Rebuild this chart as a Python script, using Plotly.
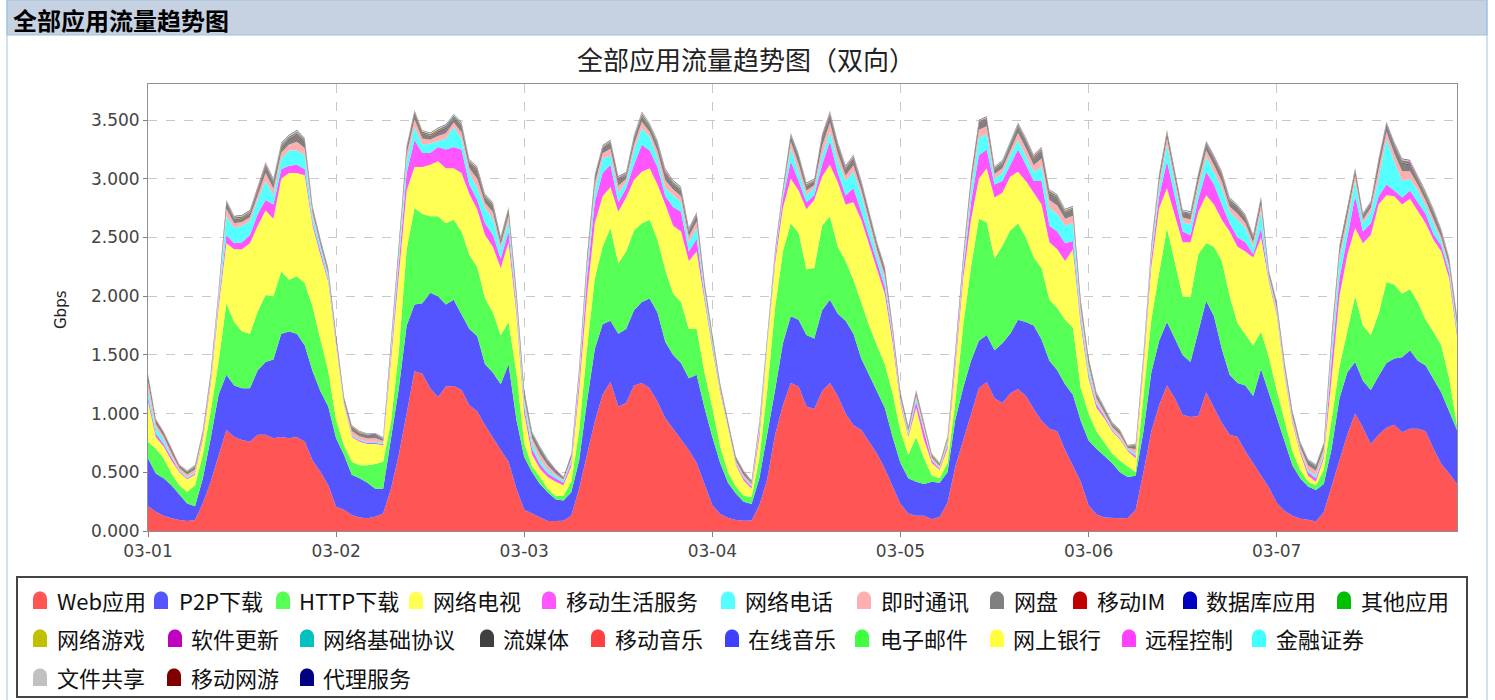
import pandas as pd
import plotly.graph_objects as go

# ---------------- data (Gbps, hourly from 03-01 00:00) ----------------
hours = pd.date_range("2015-03-01 00:00", periods=168, freq="h")
coarse_hours = pd.date_range("2015-03-01 05:00", periods=14, freq="12h")
day_ticks = pd.date_range("2015-03-01", periods=7, freq="D")
day_labels = ["03-01", "03-02", "03-03", "03-04", "03-05", "03-06", "03-07"]
y_ticks = [0, 0.5, 1.0, 1.5, 2.0, 2.5, 3.0, 3.5]

web = [0.21,0.165,0.13,0.108,0.094,0.085,0.094,0.236,0.42,0.63,
       0.86,0.80,0.775,0.76,0.82,0.82,0.79,0.80,0.79,0.80,
       0.76,0.60,0.505,0.39,0.207,0.18,0.136,0.114,0.108,0.122,
       0.15,0.36,0.65,1.0,1.36,1.34,1.215,1.14,1.23,1.235,
       1.20,1.07,1.02,0.90,0.79,0.69,0.59,0.36,0.18,0.15,
       0.12,0.085,0.085,0.088,0.13,0.36,0.65,0.93,1.16,1.27,
       1.06,1.09,1.24,1.26,1.215,1.10,0.96,0.87,0.78,0.69,
       0.58,0.40,0.22,0.145,0.11,0.094,0.088,0.09,0.22,0.44,
       0.82,1.07,1.26,1.23,1.06,1.04,1.19,1.26,1.15,1.0,
       0.90,0.86,0.76,0.66,0.53,0.38,0.23,0.15,0.13,0.13,
       0.10,0.12,0.24,0.55,0.77,1.0,1.215,1.27,1.13,1.09,
       1.17,1.21,1.15,1.04,0.94,0.87,0.85,0.69,0.56,0.42,
       0.22,0.14,0.115,0.11,0.108,0.11,0.18,0.50,0.85,1.07,
       1.24,1.13,0.99,0.97,0.98,1.18,1.05,0.92,0.82,0.80,
       0.68,0.58,0.47,0.37,0.24,0.17,0.13,0.105,0.095,0.08,
       0.16,0.38,0.62,0.82,1.0,0.88,0.74,0.82,0.88,0.905,
       0.84,0.87,0.87,0.85,0.70,0.57,0.49,0.40]

p2p = [0.41,0.325,0.32,0.282,0.216,0.15,0.116,0.214,0.37,0.53,
       0.47,0.44,0.44,0.455,0.55,0.62,0.67,0.88,0.91,0.88,
       0.82,0.76,0.685,0.67,0.583,0.47,0.344,0.336,0.302,0.238,
       0.21,0.43,0.565,0.75,0.57,0.60,0.815,0.86,0.70,0.735,
       0.65,0.65,0.64,0.52,0.56,0.56,0.83,0.59,0.45,0.35,
       0.28,0.245,0.185,0.172,0.20,0.24,0.45,0.62,0.60,0.52,
       0.62,0.63,0.64,0.69,0.765,0.76,0.65,0.63,0.65,0.61,
       0.75,0.65,0.58,0.435,0.30,0.226,0.162,0.14,0.23,0.38,
       0.38,0.53,0.57,0.57,0.61,0.60,0.69,0.71,0.70,0.79,
       0.78,0.61,0.57,0.54,0.52,0.42,0.35,0.30,0.29,0.27,
       0.32,0.29,0.26,0.40,0.45,0.45,0.405,0.40,0.41,0.51,
       0.51,0.59,0.63,0.71,0.69,0.58,0.52,0.56,0.60,0.52,
       0.55,0.56,0.525,0.47,0.392,0.35,0.29,0.35,0.50,0.55,
       0.54,0.51,0.51,0.47,0.72,0.78,0.78,0.63,0.51,0.46,
       0.56,0.57,0.91,0.81,0.74,0.61,0.43,0.345,0.285,0.27,
       0.24,0.32,0.51,0.53,0.44,0.40,0.46,0.50,0.55,0.565,
       0.64,0.67,0.58,0.56,0.60,0.61,0.53,0.46]

http = [0.14,0.21,0.17,0.10,0.08,0.10,0.18,0.20,0.23,0.28,
        0.61,0.54,0.485,0.465,0.50,0.57,0.54,0.53,0.44,0.49,
        0.53,0.55,0.44,0.30,0.155,0.08,0.11,0.11,0.15,0.21,
        0.23,0.14,0.315,0.65,0.82,0.76,0.65,0.68,0.69,0.68,
        0.70,0.63,0.59,0.56,0.51,0.42,0.36,0.40,0.12,0.05,
        0.06,0.03,0.03,0.04,0.09,0.25,0.45,0.60,0.66,0.79,
        0.60,0.66,0.68,0.67,0.67,0.62,0.61,0.52,0.52,0.42,
        0.39,0.30,0.25,0.14,0.09,0.06,0.05,0.06,0.17,0.38,
        0.70,0.78,0.79,0.74,0.56,0.60,0.72,0.71,0.57,0.51,
        0.46,0.48,0.42,0.38,0.37,0.37,0.27,0.20,0.38,0.22,
        0.05,0.04,0.08,0.15,0.53,0.80,1.04,0.96,0.78,0.83,
        0.88,0.82,0.72,0.58,0.61,0.52,0.53,0.55,0.57,0.28,
        0.23,0.15,0.12,0.08,0.10,0.09,0.03,0.30,0.45,0.58,
        0.80,0.65,0.50,0.55,0.66,0.49,0.59,0.75,0.67,0.51,
        0.43,0.43,0.32,0.30,0.22,0.17,0.12,0.07,0.04,0.04,
        0.12,0.25,0.27,0.35,0.56,0.47,0.47,0.53,0.69,0.63,
        0.54,0.52,0.50,0.39,0.40,0.40,0.28,0.04]

iptv = [0.34,0.10,0.10,0.11,0.11,0.105,0.09,0.13,0.23,0.46,
        0.51,0.62,0.70,0.77,0.73,0.72,0.66,0.79,0.91,0.88,
        0.92,0.69,0.72,0.76,0.635,0.34,0.21,0.20,0.18,0.17,
        0.14,0.52,0.67,0.50,0.35,0.40,0.44,0.47,0.47,0.44,
        0.50,0.52,0.49,0.54,0.56,0.57,0.68,0.50,0.25,0.10,
        0.07,0.10,0.12,0.09,0.13,0.35,0.45,0.47,0.43,0.35,
        0.44,0.46,0.43,0.44,0.44,0.47,0.56,0.58,0.60,0.58,
        0.66,0.60,0.50,0.46,0.36,0.18,0.13,0.07,0.18,0.38,
        0.38,0.37,0.38,0.36,0.51,0.58,0.42,0.44,0.55,0.48,
        0.66,0.70,0.69,0.66,0.60,0.43,0.23,0.15,0.25,0.16,
        0.11,0.07,0.12,0.30,0.40,0.40,0.34,0.46,0.52,0.45,
        0.46,0.44,0.48,0.55,0.54,0.49,0.50,0.50,0.67,0.53,
        0.30,0.20,0.20,0.19,0.18,0.13,0.12,0.25,0.45,0.55,
        0.34,0.40,0.46,0.47,0.36,0.41,0.36,0.35,0.55,0.65,
        0.71,0.75,0.80,0.64,0.64,0.37,0.24,0.14,0.05,0.03,
        0.10,0.35,0.60,0.65,0.58,0.70,0.85,0.93,0.74,0.75,
        0.76,0.77,0.77,0.82,0.78,0.80,0.85,0.76]

mobile_life = [0.04,0.03,0.02,0.02,0.01,0.01,0.01,0.02,0.03,0.05,
               0.07,0.05,0.06,0.07,0.10,0.09,0.12,0.08,0.06,0.07,
               0.05,0.03,0.03,0.02,0.02,0.01,0.01,0.01,0.01,0.01,
               0.01,0.07,0.10,0.15,0.23,0.12,0.10,0.12,0.16,0.18,
               0.20,0.08,0.08,0.10,0.10,0.08,0.09,0.05,0.05,0.05,
               0.04,0.03,0.03,0.02,0.03,0.08,0.15,0.18,0.20,0.19,
               0.08,0.08,0.13,0.23,0.15,0.15,0.07,0.16,0.17,0.08,
               0.11,0.05,0.03,0.02,0.01,0.01,0.02,0.02,0.05,0.04,
               0.05,0.08,0.15,0.08,0.06,0.04,0.10,0.20,0.08,0.08,
               0.12,0.07,0.06,0.06,0.06,0.05,0.02,0.02,0.05,0.07,
               0.02,0.01,0.03,0.05,0.07,0.15,0.20,0.16,0.11,0.10,
               0.10,0.19,0.14,0.10,0.20,0.14,0.15,0.15,0.07,0.05,
               0.03,0.03,0.02,0.01,0.01,0.01,0.02,0.04,0.07,0.10,
               0.23,0.16,0.09,0.06,0.11,0.20,0.17,0.13,0.07,0.08,
               0.08,0.03,0.08,0.02,0.02,0.02,0.02,0.02,0.03,0.03,
               0.02,0.15,0.15,0.15,0.27,0.10,0.10,0.07,0.09,0.05,
               0.06,0.07,0.08,0.08,0.05,0.05,0.05,0.04]

voip = [0.06,0.05,0.04,0.02,0.01,0.01,0.01,0.01,0.02,0.03,
        0.16,0.13,0.14,0.12,0.12,0.16,0.08,0.09,0.13,0.12,
        0.12,0.05,0.04,0.03,0.01,0.01,0.01,0.01,0.01,0.01,
        0.01,0.03,0.05,0.10,0.11,0.07,0.08,0.05,0.09,0.17,
        0.09,0.10,0.10,0.13,0.14,0.08,0.09,0.05,0.05,0.05,
        0.04,0.03,0.02,0.02,0.02,0.04,0.07,0.10,0.12,0.08,
        0.08,0.05,0.12,0.14,0.12,0.08,0.07,0.10,0.08,0.08,
        0.09,0.04,0.03,0.01,0.01,0.01,0.01,0.01,0.03,0.02,
        0.02,0.03,0.11,0.08,0.06,0.06,0.08,0.08,0.10,0.12,
        0.14,0.14,0.10,0.06,0.06,0.03,0.02,0.02,0.03,0.02,
        0.01,0.01,0.02,0.02,0.04,0.10,0.15,0.13,0.05,0.07,
        0.08,0.08,0.08,0.08,0.12,0.15,0.15,0.15,0.15,0.05,
        0.05,0.02,0.01,0.01,0.01,0.01,0.02,0.02,0.04,0.07,
        0.14,0.10,0.08,0.09,0.09,0.13,0.11,0.14,0.10,0.15,
        0.12,0.06,0.14,0.02,0.02,0.02,0.01,0.01,0.02,0.02,
        0.02,0.10,0.15,0.12,0.13,0.07,0.10,0.15,0.39,0.25,
        0.14,0.10,0.10,0.07,0.09,0.04,0.04,0.04]

im = [0.072,0.032,0.028,0.024,0.016,0.024,0.024,0.016,0.016,0.028,
      0.064,0.04,0.032,0.032,0.04,0.068,0.056,0.052,0.052,0.076,
      0.06,0.028,0.02,0.02,0.02,0.016,0.032,0.028,0.028,0.032,
      0.016,0.02,0.04,0.06,0.064,0.052,0.032,0.044,0.048,0.04,
      0.056,0.04,0.08,0.044,0.056,0.04,0.048,0.04,0.04,0.04,
      0.048,0.04,0.02,0.008,0.02,0.032,0.052,0.06,0.048,0.056,
      0.06,0.028,0.052,0.056,0.04,0.056,0.068,0.048,0.052,0.048,
      0.056,0.032,0.024,0.012,0.02,0.016,0.018,0.012,0.02,0.012,
      0.012,0.024,0.056,0.068,0.04,0.024,0.08,0.076,0.068,0.048,
      0.056,0.048,0.056,0.04,0.044,0.02,0.016,0.012,0.024,0.024,
      0.016,0.016,0.02,0.032,0.036,0.06,0.068,0.068,0.04,0.04,
      0.04,0.06,0.06,0.056,0.072,0.068,0.072,0.06,0.064,0.048,
      0.04,0.032,0.024,0.02,0.024,0.008,0.036,0.016,0.032,0.056,
      0.056,0.056,0.04,0.044,0.056,0.052,0.056,0.056,0.044,0.052,
      0.044,0.04,0.056,0.016,0.028,0.032,0.028,0.028,0.04,0.044,
      0.04,0.06,0.06,0.064,0.048,0.032,0.032,0.08,0.06,0.068,
      0.084,0.064,0.048,0.044,0.044,0.032,0.024,0.024]

netdisk = [0.054,0.024,0.021,0.018,0.012,0.018,0.018,0.012,0.012,0.021,
           0.048,0.03,0.024,0.024,0.03,0.051,0.042,0.039,0.039,0.057,
           0.045,0.021,0.015,0.015,0.015,0.012,0.024,0.021,0.021,0.024,
           0.012,0.015,0.03,0.045,0.048,0.039,0.024,0.033,0.036,0.03,
           0.042,0.03,0.06,0.033,0.042,0.03,0.036,0.03,0.03,0.03,
           0.036,0.03,0.015,0.006,0.015,0.024,0.039,0.045,0.036,0.042,
           0.045,0.021,0.039,0.042,0.03,0.042,0.051,0.036,0.039,0.036,
           0.042,0.024,0.018,0.009,0.015,0.012,0.014,0.009,0.015,0.009,
           0.009,0.018,0.042,0.051,0.03,0.018,0.06,0.057,0.051,0.036,
           0.042,0.036,0.042,0.03,0.033,0.015,0.012,0.009,0.018,0.018,
           0.012,0.012,0.015,0.024,0.027,0.045,0.051,0.051,0.03,0.03,
           0.03,0.045,0.045,0.042,0.054,0.051,0.054,0.045,0.048,0.036,
           0.03,0.024,0.018,0.015,0.018,0.006,0.027,0.012,0.024,0.042,
           0.042,0.042,0.03,0.033,0.042,0.039,0.042,0.042,0.033,0.039,
           0.033,0.03,0.042,0.012,0.021,0.024,0.021,0.021,0.03,0.033,
           0.03,0.045,0.045,0.048,0.036,0.024,0.024,0.06,0.045,0.051,
           0.063,0.048,0.036,0.033,0.033,0.024,0.018,0.018]

# small applications, read every 12 h (night / day)
mobile_im   = [0.002,0.005,0.002,0.006,0.002,0.005,0.002,0.006,0.002,0.005,0.002,0.005,0.002,0.006]
database    = [0.001,0.003,0.001,0.003,0.001,0.003,0.001,0.004,0.001,0.003,0.001,0.003,0.001,0.003]
other_apps  = [0.002,0.004,0.002,0.004,0.002,0.005,0.002,0.004,0.002,0.004,0.002,0.004,0.002,0.004]
net_game    = [0.001,0.003,0.001,0.003,0.001,0.003,0.001,0.003,0.001,0.003,0.001,0.003,0.001,0.003]
sw_update   = [0.001,0.003,0.001,0.002,0.001,0.003,0.001,0.003,0.001,0.003,0.001,0.002,0.001,0.003]
base_proto  = [0.001,0.002,0.001,0.002,0.001,0.002,0.001,0.002,0.001,0.002,0.001,0.002,0.001,0.002]
streaming   = [0.002,0.006,0.002,0.007,0.002,0.006,0.002,0.006,0.002,0.007,0.002,0.006,0.002,0.006]
mobile_music= [0.001,0.003,0.001,0.003,0.001,0.003,0.001,0.003,0.001,0.003,0.001,0.003,0.001,0.003]
online_music= [0.001,0.002,0.001,0.002,0.001,0.002,0.001,0.002,0.001,0.002,0.001,0.002,0.001,0.002]
email       = [0.001,0.002,0.001,0.002,0.001,0.002,0.001,0.002,0.001,0.002,0.001,0.002,0.001,0.002]
e_banking   = [0.0005,0.002,0.0005,0.002,0.0005,0.002,0.0005,0.002,0.0005,0.002,0.0005,0.002,0.0005,0.002]
remote_ctrl = [0.0005,0.001,0.0005,0.001,0.0005,0.001,0.0005,0.001,0.0005,0.001,0.0005,0.001,0.0005,0.001]
securities  = [0.0005,0.001,0.0005,0.001,0.0005,0.001,0.0005,0.001,0.0005,0.001,0.0005,0.001,0.0005,0.001]
file_share  = [0.002,0.005,0.002,0.005,0.002,0.006,0.002,0.005,0.002,0.005,0.002,0.005,0.002,0.005]
mobile_game = [0.001,0.002,0.001,0.002,0.001,0.002,0.001,0.002,0.001,0.002,0.001,0.002,0.001,0.002]
proxy       = [0.001,0.002,0.001,0.002,0.001,0.002,0.001,0.002,0.001,0.002,0.001,0.002,0.001,0.002]

series = [
    ("Web应用", web, "#FF5555", True),
    ("P2P下载", p2p, "#5555FF", True),
    ("HTTP下载", http, "#55FF55", True),
    ("网络电视", iptv, "#FFFF55", True),
    ("移动生活服务", mobile_life, "#FF55FF", True),
    ("网络电话", voip, "#55FFFF", True),
    ("即时通讯", im, "#FFAFAF", True),
    ("网盘", netdisk, "#808080", True),
    ("移动IM", mobile_im, "#C00000", False),
    ("数据库应用", database, "#0000C0", False),
    ("其他应用", other_apps, "#00C000", False),
    ("网络游戏", net_game, "#C0C000", False),
    ("软件更新", sw_update, "#C000C0", False),
    ("网络基础协议", base_proto, "#00C0C0", False),
    ("流媒体", streaming, "#404040", False),
    ("移动音乐", mobile_music, "#FF4040", False),
    ("在线音乐", online_music, "#4040FF", False),
    ("电子邮件", email, "#40FF40", False),
    ("网上银行", e_banking, "#FFFF40", False),
    ("远程控制", remote_ctrl, "#FF40FF", False),
    ("金融证券", securities, "#40FFFF", False),
    ("文件共享", file_share, "#C0C0C0", False),
    ("移动网游", mobile_game, "#800000", False),
    ("代理服务", proxy, "#000080", False),
]

for name, vals, _, hourly in series:
    need = 168 if hourly else 14
    if len(vals) != need:
        raise ValueError(f"{name}: {len(vals)} values, expected {need}")

fig = go.Figure()
for name, vals, color, hourly in series:
    fig.add_trace(go.Scatter(
        x=hours if hourly else coarse_hours, y=vals, name=name,
        mode="lines", line=dict(width=0, color=color),
        fillcolor=color, stackgroup="all", stackgaps="interpolate",
        hoverinfo="x+y+name", showlegend=False,
    ))

# ---------------- layout (pixel helpers) ----------------
W, H = 1495, 700
L, R, T, B = 148, 38, 84, 169
pw, ph = W - L - R, H - T - B

def px(x):
    return (x - L) / pw

def py(y):
    return (H - B - y) / ph

cjk = "Noto Sans CJK SC"
grid = dict(showgrid=True, gridcolor="#C8C8C8", griddash="dash", gridwidth=1)
tickfont = dict(family="DejaVu Sans", size=17, color="#444444")

shapes = [
    dict(type="rect", xref="paper", yref="paper",
         x0=px(7), x1=px(1487), y0=py(35), y1=py(0),
         fillcolor="#C6D1E1", line=dict(color="#9CC3DE", width=1), layer="below"),
    dict(type="line", xref="paper", yref="paper",
         x0=px(7), x1=px(7), y0=py(0), y1=py(700),
         line=dict(color="#9CC3DE", width=1)),
    dict(type="line", xref="paper", yref="paper",
         x0=px(1487), x1=px(1487), y0=py(0), y1=py(700),
         line=dict(color="#9CC3DE", width=1)),
    # legend frame
    dict(type="rect", xref="paper", yref="paper",
         x0=px(17), x1=px(1467), y0=py(697), y1=py(577),
         fillcolor="rgba(0,0,0,0)", line=dict(color="#444444", width=2)),
]

annotations = [
    dict(text="<b>全部应用流量趋势图</b>", xref="paper", yref="paper",
         x=px(11), y=py(19), xanchor="left", yanchor="middle", showarrow=False,
         font=dict(family=cjk, size=24, color="#000000")),
    dict(text="全部应用流量趋势图（双向）", xref="paper", yref="paper",
         x=px(746), y=py(58), xanchor="center", yanchor="middle", showarrow=False,
         font=dict(family=cjk, size=26, color="#222222")),
    dict(text="Gbps", xref="paper", yref="paper",
         x=px(61), y=py(310), xanchor="center", yanchor="middle", showarrow=False,
         textangle=-90, font=dict(family="DejaVu Sans", size=15, color="#222222")),
]

# legend: rows of (symbol centre x, text start x) in pixels, in series order
legend_rows_y = [600, 638, 677]
legend_slots = [
    (0, 40, 55), (0, 161, 177), (0, 283, 297), (0, 416, 431), (0, 549, 564),
    (0, 728, 743), (0, 864, 879), (0, 997, 1012), (0, 1080, 1095),
    (0, 1190, 1204), (0, 1344, 1359),
    (1, 40, 55), (1, 175, 189), (1, 307, 321), (1, 487, 501), (1, 598, 613),
    (1, 732, 746), (1, 862, 878), (1, 997, 1011), (1, 1129, 1143), (1, 1259, 1274),
    (2, 40, 55), (2, 174, 189), (2, 307, 321),
]
bell = "M -7 -9 L -7 1 C -7 11 7 11 7 1 L 7 -9 Z"
for (name, _, color, _), (row, sx, tx) in zip(series, legend_slots):
    yc = legend_rows_y[row]
    shapes.append(dict(type="path", xref="paper", yref="paper",
                       xsizemode="pixel", ysizemode="pixel",
                       xanchor=px(sx), yanchor=py(yc), path=bell,
                       fillcolor=color, line=dict(width=0)))
    annotations.append(dict(text=name, xref="paper", yref="paper",
                            x=px(tx), y=py(yc), xanchor="left", yanchor="middle",
                            showarrow=False,
                            font=dict(family=cjk, size=22, color="#111111")))

fig.update_layout(
    width=W, height=H,
    margin=dict(l=L, r=R, t=T, b=B),
    paper_bgcolor="white", plot_bgcolor="white",
    showlegend=False,
    xaxis=dict(
        type="date", range=[hours[0], hours[-1]],
        tickvals=list(day_ticks), ticktext=day_labels,
        ticks="outside", ticklen=5, tickcolor="#808080", tickfont=tickfont,
        showline=True, linecolor="#909090", linewidth=1, mirror=True,
        zeroline=False, **grid,
    ),
    yaxis=dict(
        range=[0, 3.807], tickvals=y_ticks, tickformat=".3f",
        ticks="outside", ticklen=4, tickcolor="#808080", tickfont=tickfont,
        showline=True, linecolor="#909090", linewidth=1, mirror=True,
        zeroline=False, **grid,
    ),
    shapes=shapes,
    annotations=annotations,
)

fig.write_html("out.html", config={"displayModeBar": False},
               post_script="document.body.style.margin='0px';")
